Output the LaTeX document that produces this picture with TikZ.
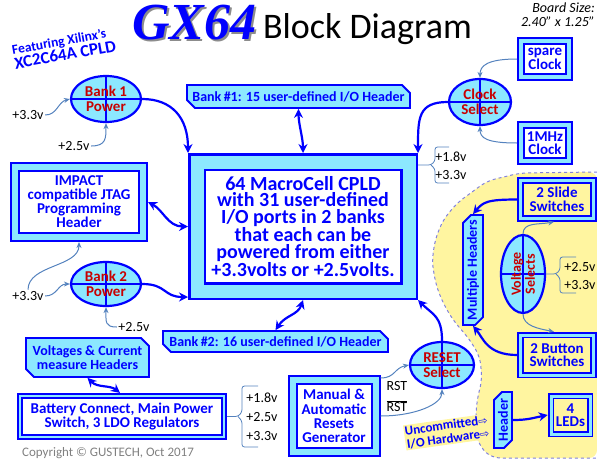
\documentclass[tikz,border=0pt]{standalone}
\usepackage{fontspec}
\setmainfont{Carlito}
\newfontfamily\dejavu{DejaVu Sans}
\newfontfamily\titleserif{Liberation Serif}
\usetikzlibrary{shapes.geometric,shapes.misc,arrows.meta,calc}
\definecolor{cyanf}{RGB}{140,232,255}
\definecolor{yel}{RGB}{255,245,160}
\definecolor{thinc}{RGB}{84,130,190}
\definecolor{redt}{RGB}{200,0,0}
\definecolor{dashc}{RGB}{130,130,220}
\definecolor{bl}{RGB}{0,0,255}
\newcommand\myfs[2]{\fontsize{#1pt}{#2pt}\selectfont}
\tikzset{
  dbase/.style={draw=bl, double=cyanf, fill=white, inner sep=0pt, text=bl, align=center, font=\bfseries\myfs{15}{13.5}},
  dbl/.style 2 args={line width=#1, double distance=#2, outer sep={(2*#1+#2)/2}},
  chbox/.style={chamfered rectangle, chamfered rectangle corners={north east,south west}, chamfered rectangle xsep=4pt, chamfered rectangle ysep=4pt, draw=bl, line width=1.8pt, fill=cyanf, text=bl, inner sep=0pt, align=center, font=\bfseries\myfs{14}{13.5}},
  ell/.style={ellipse, draw=bl, line width=2.2pt, fill=cyanf, inner sep=0pt, text=redt, align=center, font=\bfseries\myfs{15}{15},
    path picture={\draw[bl, line width=1.6pt] (path picture bounding box.north) -- (path picture bounding box.south) (path picture bounding box.west) -- (path picture bounding box.east);}},
  lbl/.style={inner sep=1.5pt, font=\myfs{14}{14}},
  tarrow/.style={draw=bl, line width=2.2pt, -{Stealth[length=9pt,width=9pt,inset=3pt]}},
  dtarrow/.style={draw=bl, line width=2.2pt, {Stealth[length=9pt,width=9pt,inset=3pt]}-{Stealth[length=9pt,width=9pt,inset=3pt]}},
  tharrow/.style={draw=thinc, line width=1pt, -{Stealth[length=6pt,width=5pt]}},
  bracec/.style={draw=thinc, line width=0.8pt, rounded corners=2.5pt},
}
\begin{document}
\begin{tikzpicture}[x=1pt,y=-1pt]
\useasboundingbox (0,0) rectangle (597,461);
% yellow region
\fill[yel, rounded corners=8pt] (597,172) -- (520,173) -- (487,181) -- (457,203) -- (443,220) -- (435,240) -- (432,262) -- (436,285) -- (443,303) -- (453,320) -- (470,340) -- (480,357) -- (482,380) -- (477,400) -- (475,430) -- (480,447) -- (492,458) -- (597,458) -- cycle;
\draw[dashc, dashed, line width=1pt, rounded corners=8pt] (597,172) -- (520,173) -- (487,181) -- (457,203) -- (443,220) -- (435,240) -- (432,262) -- (436,285) -- (443,303) -- (453,320) -- (470,340) -- (480,357) -- (482,380) -- (477,400) -- (475,430) -- (480,447) -- (492,458) -- (597,458);

% title
\node[anchor=base, inner sep=0pt, text=bl, font=\titleserif\bfseries\itshape\myfs{52}{52}] (gx) at (194.5,39) {\rlap{\kern2pt\raisebox{-2pt}{\color{black!45}GX64}}GX64};
\node[anchor=base, inner sep=0pt, font=\myfs{36}{36}] (bd) at (367.5,38) {Block Diagram};
\node[rotate=10, inner sep=0pt, text=bl, align=left, font=\bfseries] (feat) at (64,48) {\myfs{13.5}{13}Featuring Xilinx’s\\\myfs{17}{15}XC2C64A CPLD};
\node[anchor=north east, align=right, font=\itshape\myfs{14}{14}, inner sep=0pt] (bsz) at (595,3) {Board Size:\\2.40” x 1.25”};

% double boxes
\node[dbase, dbl={2.5pt}{13pt}, minimum width=212pt, minimum height=129pt, font=\bfseries\myfs{20}{16.7}] (cpld) at (303,226.5) {64 MacroCell CPLD\\with 31 user-defined\\I/O ports in 2 banks\\that each can be\\powered from either\\+3.3volts or +2.5volts.};
\node[dbase, dbl={2pt}{6pt}, minimum width=128pt, minimum height=70pt, font=\bfseries\myfs{15}{14}] (jtag) at (79,202) {IMPACT\\compatible JTAG\\Programming\\Header};
\node[dbase, dbl={2pt}{4pt}, minimum width=48pt, minimum height=36pt] (spare) at (545,59) {spare\\Clock};
\node[dbase, dbl={2pt}{4pt}, minimum width=48pt, minimum height=36pt] (mhz) at (545,143) {1MHz\\Clock};
\node[dbase, dbl={1.8pt}{3pt}, fill=yel, minimum width=73pt, minimum height=38pt] (ss) at (557,199.5) {2 Slide\\Switches};
\node[dbase, dbl={1.8pt}{3pt}, fill=yel, minimum width=73pt, minimum height=40pt] (bs) at (557,355) {2 Button\\Switches};
\node[dbase, dbl={1.8pt}{3pt}, fill=yel, minimum width=39pt, minimum height=38pt] (leds) at (570.5,415) {4\\LEDs};
\node[dbase, dbl={2pt}{6pt}, minimum width=83pt, minimum height=72pt, font=\bfseries\myfs{15}{14.3}] (rg) at (334,416) {Manual \&\\Automatic\\Resets\\Generator};
\node[dbase, dbl={1.8pt}{2.5pt}, minimum width=204pt, minimum height=41pt, font=\bfseries\myfs{15}{14}] (bat) at (122,416.5) {Battery Connect, Main Power\\Switch, 3 LDO Regulators};

% chamfered boxes
\node[chbox, minimum width=223pt, minimum height=23pt] (bank1) at (298.5,96.5) {Bank\,\#1: 15 user-defined I/O Header};
\node[chbox, minimum width=225pt, minimum height=21pt] (bank2) at (275.5,341.5) {Bank\,\#2: 16 user-defined I/O Header};
\node[chbox, minimum width=123pt, minimum height=39pt] (vc) at (87.5,357.5) {Voltages \& Current\\measure Headers};
\node[chbox, rotate=90, minimum width=110pt, minimum height=18pt] (mh) at (473,270) {Multiple Headers};
\node[chbox, rotate=90, minimum width=56pt, minimum height=18pt] (hdr) at (503,420) {Header};

% ellipses
\node[ell, minimum width=70pt, minimum height=46pt] (b1p) at (106,99) {Bank 1\\Power};
\node[ell, minimum width=70pt, minimum height=44pt] (b2p) at (106,284) {Bank 2\\Power};
\node[ell, minimum width=62pt, minimum height=46pt] (cs) at (480,102) {Clock\\Select};
\node[ell, rotate=90, minimum width=78pt, minimum height=44pt, font=\bfseries\myfs{14}{14}] (vs) at (523,274) {Voltage\\Selects};
\node[ell, minimum width=64pt, minimum height=46pt] (rs) at (442,365) {RESET\\Select};

% labels
\node[lbl] (v33a) at (28,115) {+3.3v};
\node[lbl] (v25a) at (74,146) {+2.5v};
\node[lbl] (v33b) at (28,296) {+3.3v};
\node[lbl] (v25b) at (134,327) {+2.5v};
\node[lbl] (c18) at (451,157) {+1.8v};
\node[lbl] (c33) at (451,175) {+3.3v};
\node[lbl] (s25) at (580,267) {+2.5v};
\node[lbl] (s33) at (580,285) {+3.3v};
\node[lbl] (b18) at (262,398) {+1.8v};
\node[lbl] (b25) at (262,417) {+2.5v};
\node[lbl] (b33) at (262,436) {+3.3v};
\node[lbl] (rst) at (397,386) {RST};
\node[lbl] (rstb) at (397,406) {$\overline{\mbox{RST}}$};
\node[rotate=8, fill=yel, inner sep=1pt, text=bl, font=\bfseries\myfs{13}{13.5}, align=right] (unc) at (447,432) {Uncommitted{\dejavu\mdseries\myfs{11}{13.5}⇨}\\I/O Hardware{\dejavu\mdseries\myfs{11}{13.5}⇨}};
\node[text=black!50, font=\myfs{13}{13}] (copy) at (108,453) {Copyright © GUSTECH, Oct 2017};

% thick connectors
\draw[tarrow] (b1p.east) .. controls +(30,0) and +(0,-35) .. (cpld.north west);
\draw[tarrow] (cs.west) .. controls +(-30,0) and +(0,-35) .. (cpld.north east);
\draw[dtarrow] (bank1.south) .. controls +(0,15) and +(0,-15) .. (cpld.north);
\draw[dtarrow] (bank2.north) .. controls +(10,-15) and +(-5,15) .. (cpld.south);
\draw[dtarrow] (jtag.east) .. controls +(15,8) and +(-20,0) .. (cpld.west);
\draw[tarrow] (b2p.east) .. controls +(25,0) and +(-25,0) .. ($(cpld.south west)+(0,-3)$);
\draw[tarrow] (rs.north) .. controls +(0,-25) and +(15,15) .. (cpld.south east);
\draw[tarrow] (ss.west) .. controls +(-30,0) and +(10,-12) .. (mh.east);
\draw[tarrow] (bs.west) .. controls +(-30,0) and +(10,12) .. (mh.west);
\draw[tarrow] (hdr.south) .. controls +(15,0) and +(-15,3) .. (leds.west);
\draw[dtarrow] (vc.south) .. controls +(10,10) and +(-10,-8) .. ($(bat.north)+(-2,0)$);

% thin connectors
\draw[tharrow] (v33a.east) .. controls +(12,0) and +(-12,3) .. (b1p.west);
\draw[tharrow] (v25a.east) .. controls +(15,0) and +(0,15) .. (b1p.south);
\draw[tharrow] (spare.west) .. controls +(-30,0) and +(0,-12) .. (cs.north);
\draw[tharrow] (mhz.west) .. controls +(-30,0) and +(0,12) .. (cs.south);
\draw[tharrow] (v33b.north) .. controls +(0,-25) and +(0,25) .. (jtag.south);
\draw[tharrow] (v33b.east) .. controls +(12,0) and +(-12,0) .. (b2p.west);
\draw[tharrow] (v25b.west) .. controls +(-12,0) and +(0,15) .. (b2p.south);
\draw[tharrow] (vs.east) .. controls +(0,-12) and +(-15,3) .. ($(ss.south)+(-3,0)$);
\draw[tharrow] (vs.west) .. controls +(0,12) and +(-15,-3) .. ($(bs.north)+(-3,0)$);
\draw[tharrow] ($(rg.north east)+(0,3)$) .. controls +(15,0) and +(-15,3) .. (rs.west);
\draw[tharrow] (rg.east) .. controls +(35,0) and +(0,15) .. (rs.south);

% braces
\draw[bracec] (cpld.east |- 0,165) -- (431,165) -- (435,161) -- (435,147) -- (449,147);
\draw[bracec] (431,165) -- (435,169) -- (435,183) -- (449,183);
\draw[bracec] (vs.south) -- (556,274) -- (560,270) -- (560,257) -- (576,257);
\draw[bracec] (556,274) -- (560,278) -- (560,293) -- (576,293);
\draw[bracec] (bat.east) -- (238,416.5) -- (242,412) -- (242,386) -- (258,386);
\draw[bracec] (238,416.5) -- (242,421) -- (242,447) -- (258,447);
\end{tikzpicture}
\end{document}
